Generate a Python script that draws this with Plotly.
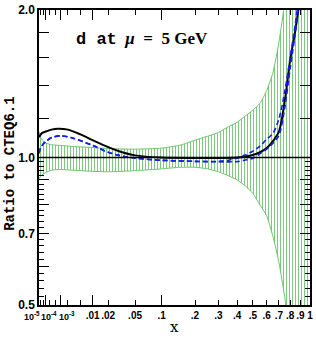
import numpy as np
import plotly.graph_objects as go

# ---------------- data ----------------
x_black = [1e-5, 3e-5, 1e-4, 3e-4, 7e-4, 2e-3, 5e-3, 0.01, 0.02, 0.03, 0.05, 0.1,
           0.2, 0.3, 0.4, 0.45, 0.5, 0.55, 0.6, 0.65, 0.7, 0.75, 0.8, 0.85, 0.9]
r_black = [1.10, 1.12, 1.13, 1.14, 1.145, 1.14, 1.115, 1.085, 1.05, 1.03, 1.01, 1.0,
           0.998, 0.998, 1.0, 1.005, 1.012, 1.025, 1.045, 1.08, 1.13, 1.3, 1.58, 1.82, 2.15]

x_blue1 = [1e-5, 2e-5, 5e-5, 1e-4, 3e-4, 1e-3, 3e-3, 0.01, 0.02, 0.03, 0.05, 0.1,
           0.2, 0.3, 0.4, 0.45, 0.5, 0.55, 0.6, 0.65, 0.7, 0.75, 0.8, 0.85, 0.9]
r_blue1 = [1.02, 1.045, 1.065, 1.078, 1.098, 1.107, 1.095, 1.058, 1.025, 1.01, 0.997, 0.987,
           0.982, 0.98, 0.981, 0.988, 0.997, 1.018, 1.04, 1.07, 1.11, 1.26, 1.52, 1.8, 2.2]

x_blue2 = [1e-5, 2e-5, 5e-5, 1e-4, 3e-4, 1e-3, 3e-3, 0.01, 0.02, 0.03, 0.05, 0.1,
           0.2, 0.3, 0.35, 0.4, 0.45, 0.5, 0.55, 0.6, 0.65, 0.7, 0.75, 0.8, 0.85, 0.9]
r_blue2 = [1.02, 1.045, 1.065, 1.078, 1.098, 1.107, 1.095, 1.058, 1.025, 1.01, 0.997, 0.987,
           0.982, 0.982, 0.987, 0.997, 1.012, 1.03, 1.055, 1.09, 1.12, 1.2, 1.36, 1.6, 1.88, 2.25]

x_band = [1e-5, 2e-5, 5e-5, 1e-4, 3e-4, 1e-3, 3e-3, 0.01, 0.02, 0.05, 0.1, 0.15,
          0.2, 0.25, 0.3, 0.35, 0.4, 0.45, 0.5, 0.55, 0.6, 0.65, 0.7, 0.75, 0.8, 0.85, 0.9, 1.0]
band_hi = [1.13, 1.10, 1.08, 1.07, 1.062, 1.058, 1.053, 1.048, 1.043, 1.04, 1.045, 1.06,
           1.085, 1.105, 1.125, 1.155, 1.18, 1.215, 1.25, 1.29, 1.37, 1.49, 1.72, 2.07, 2.5, 3.0, 3.6, 5.0]
band_lo = [0.905, 0.915, 0.925, 0.932, 0.942, 0.945, 0.942, 0.937, 0.935, 0.94, 0.948, 0.955,
           0.955, 0.948, 0.935, 0.918, 0.90, 0.875, 0.845, 0.80, 0.76, 0.69, 0.61, 0.52, 0.43, 0.36, 0.3, 0.2]

ref_ratio = 1.0
x_lo, x_hi = 1e-5, 1.0

x_major_labels = [0.01, 0.02, 0.05, 0.1, 0.2, 0.3, 0.4, 0.5, 0.6, 0.7, 0.8, 0.9, 1.0]
x_major_text = [".01", ".02", ".05", ".1", ".2", ".3", ".4", ".5", ".6", ".7", ".8", ".9", "1"]
x_small_labels = [1e-5, 1e-4, 1e-3]
x_small_text = ["10<sup>-5</sup>", "10<sup>-4</sup>", "10<sup>-3</sup>"]
x_minor = [2e-5, 5e-5, 2e-4, 5e-4, 2e-3, 5e-3]
x_decades = [1e-4, 1e-3, 1e-2, 1e-1]

y_major = [0.5, 0.6, 0.7, 0.8, 0.9, 1.0, 1.2, 1.4, 1.6, 1.8, 2.0]
y_major_text = ["0.5", "", "0.7", "", "", "1.0", "", "", "", "", "2.0"]
y_minor = [0.52, 0.54, 0.56, 0.58, 0.62, 0.64, 0.66, 0.68, 0.72, 0.74, 0.76, 0.78,
           0.82, 0.84, 0.86, 0.88, 0.92, 0.94, 0.96, 0.98]
y_lo, y_hi = 0.5, 2.0


def u(v):
    """cube-root x scale used by the reference"""
    return np.cbrt(np.asarray(v, dtype=float))


GREEN = "rgb(110,195,110)"
BLUE = "rgb(20,30,235)"

fig = go.Figure()

fig.add_trace(go.Scatter(x=u(x_band), y=band_hi, mode="lines",
                         line=dict(color=GREEN, width=1, shape="spline", smoothing=0.6),
                         hoverinfo="skip", showlegend=False))
fig.add_trace(go.Scatter(x=u(x_band), y=band_lo, mode="lines",
                         line=dict(color=GREEN, width=1, shape="spline", smoothing=0.6),
                         fill="tonexty", fillcolor="rgba(0,0,0,0)",
                         fillpattern=dict(shape="|", fgcolor=GREEN, bgcolor="rgba(0,0,0,0)",
                                          size=3, solidity=0.3, fillmode="replace"),
                         hoverinfo="skip", showlegend=False))

# reference line at ratio 1 (on the overlay axis so it carries the decade ticks)
fig.add_trace(go.Scatter(x=u([x_lo, x_hi]), y=[ref_ratio, ref_ratio], mode="lines",
                         line=dict(color="black", width=1.3), xaxis="x2",
                         hoverinfo="skip", showlegend=False))

fig.add_trace(go.Scatter(x=u(x_black), y=r_black, mode="lines",
                         line=dict(color="black", width=2, shape="spline", smoothing=0.8),
                         showlegend=False))
fig.add_trace(go.Scatter(x=u(x_blue1), y=r_blue1, mode="lines",
                         line=dict(color=BLUE, width=1.6, dash="5px,3px", shape="spline", smoothing=0.8),
                         showlegend=False))
fig.add_trace(go.Scatter(x=u(x_blue2), y=r_blue2, mode="lines",
                         line=dict(color=BLUE, width=1.6, dash="5px,3px", shape="spline", smoothing=0.8),
                         showlegend=False))

xr = [float(u(x_lo)), float(u(x_hi))]
eps = 1e-4
yr = [float(np.log10(y_lo)) - eps, float(np.log10(y_hi)) + eps]
tickfont = dict(family="Liberation Sans", size=10, color="black", weight="bold")

fig.update_layout(
    width=316, height=343,
    margin=dict(l=39, r=3, t=5, b=38),
    paper_bgcolor="white", plot_bgcolor="white",
    xaxis=dict(range=xr, showgrid=False, zeroline=False,
               showline=True, linecolor="black", linewidth=1.5, mirror="ticks",
               ticks="inside", ticklen=5, tickwidth=1.2, tickcolor="black",
               tickvals=list(u(x_major_labels)), ticktext=x_major_text,
               tickangle=0, tickfont=tickfont, ticklabeloverflow="allow",
               minor=dict(tickvals=list(u(x_minor)), ticks="inside", ticklen=5,
                          tickwidth=1.2, tickcolor="black")),
    xaxis2=dict(range=xr, overlaying="x", anchor="y", side="bottom",
                showgrid=False, zeroline=False, showline=False, mirror="ticks",
                ticks="inside", ticklen=10, tickwidth=1.2, tickcolor="black",
                tickvals=list(u(x_decades)), showticklabels=False),
    yaxis=dict(type="log", range=yr,
               showgrid=False, zeroline=False,
               showline=True, linecolor="black", linewidth=1.5, mirror="ticks",
               ticks="inside", ticklen=10, tickwidth=1.2, tickcolor="black",
               tickvals=y_major, ticktext=y_major_text, ticklabeloverflow="allow",
               tickfont=dict(family="Liberation Sans", size=12, color="black", weight="bold"),
               minor=dict(tickvals=y_minor, ticks="inside", ticklen=5,
                          tickwidth=1.2, tickcolor="black")),
)

shifts = [-7, 3, 6]
for xv, txt, sh in zip(x_small_labels, x_small_text, shifts):
    fig.add_annotation(x=float(u(xv)), y=0, xref="x", yref="paper", text=txt,
                       showarrow=False, xanchor="center", yanchor="top", yshift=-3, xshift=sh,
                       font=dict(family="Liberation Sans", size=9, color="black", weight="bold"))

fig.add_annotation(x=-0.105, y=0.477, xref="paper", yref="paper",
                   xanchor="center", yanchor="middle",
                   text="Ratio to CTEQ6.1", textangle=-90, showarrow=False,
                   font=dict(family="Liberation Mono", size=14, color="black", weight="bold"))
fig.add_annotation(x=0.5, y=-0.075, xref="paper", yref="paper", text="x",
                   xanchor="center", yanchor="middle", showarrow=False,
                   font=dict(family="DejaVu Serif", size=15, color="black"))
fig.add_annotation(x=0.38, y=0.9, xref="paper", yref="paper",
                   xanchor="center", yanchor="middle",
                   text='<span style="font-family:Liberation Mono">d&nbsp;at</span>&nbsp;&nbsp;<i>μ</i>&nbsp;&nbsp;=&nbsp;&nbsp;5&nbsp;GeV',
                   showarrow=False,
                   font=dict(family="Liberation Serif", size=17, color="black", weight="bold"))

fig.write_html("out.html", config={"displayModeBar": False},
               post_script="document.body.style.margin='0px';document.body.style.padding='0px';")
